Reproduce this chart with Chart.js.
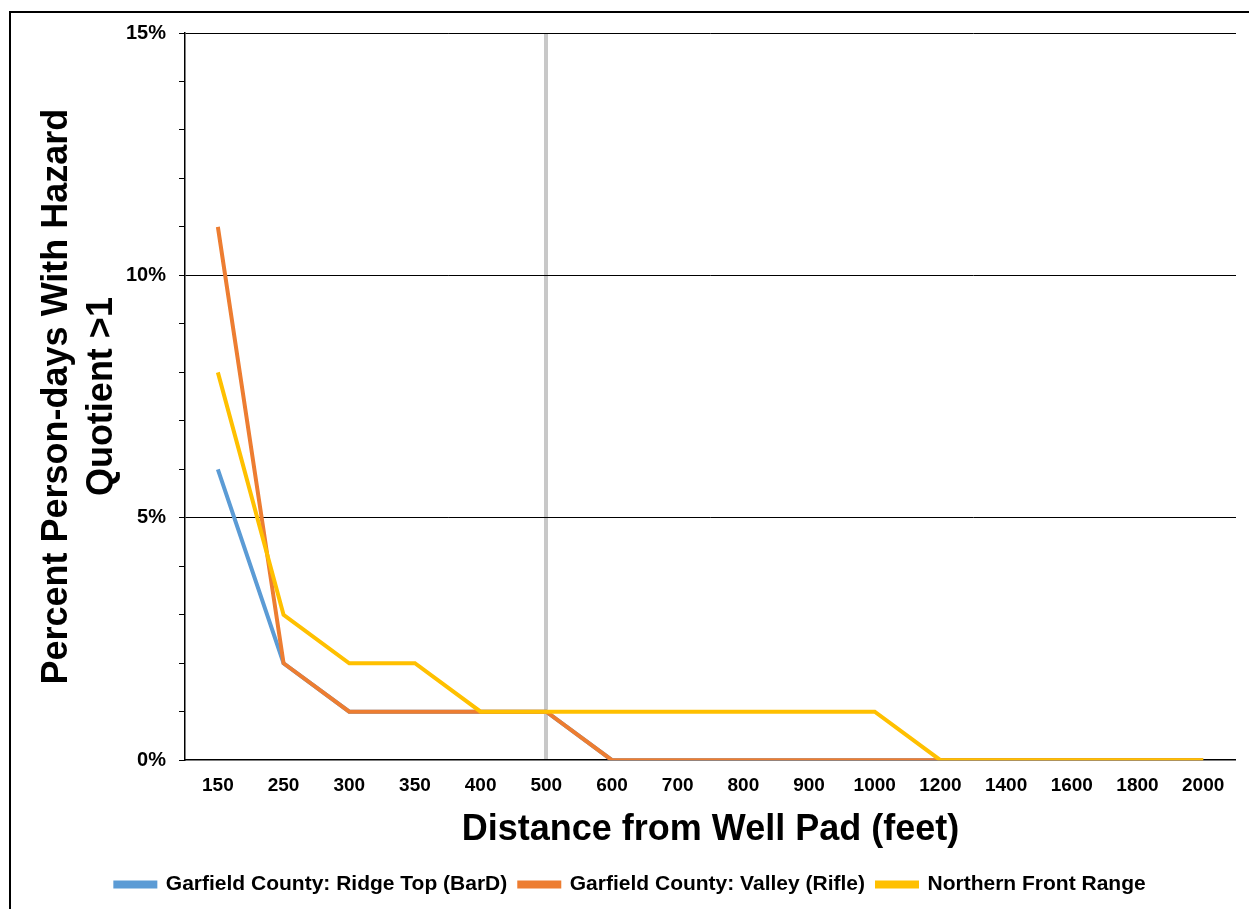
<!DOCTYPE html>
<html lang="en">

<head>
    <meta charset="UTF-8">
    <title>Percent Person-days With Hazard Quotient >1</title>
    <script src="https://cdn.jsdelivr.net/npm/chart.js"></script>
    <style>
        html,
        body {
            margin: 0;
            padding: 0;
            background: #fff;
            overflow: hidden;
        }
        
        #wrap {
            position: absolute;
            left: 0;
            top: 0;
            width: 1249px;
            height: 909px;
        }
        
        #frame {
            position: absolute;
            left: 9px;
            top: 11px;
            width: 1300px;
            height: 1000px;
            border: 2px solid #000;
            pointer-events: none;
        }
    </style>
</head>

<body>
    <div id="wrap"><canvas id="grafik"></canvas></div>
    <div id="frame"></div>

    <script>
        const masofalar = ['150', '250', '300', '350', '400', '500', '600', '700', '800', '900', '1000', '1200', '1400', '1600', '1800', '2000'];
        const ridgeTop = [6, 2, 1, 1, 1, 1, 0, 0, 0, 0, 0, 0, 0, 0, 0, 0];
        const valley = [11, 2, 1, 1, 1, 1, 0, 0, 0, 0, 0, 0, 0, 0, 0, 0];
        const frontRange = [8, 3, 2, 2, 1, 1, 1, 1, 1, 1, 1, 0, 0, 0, 0, 0];
        const chegara = '500';

        const shrift = 'Liberation Sans, Arial, sans-serif';

        function chiziq(nomi, qiymatlar, rang, tartib) {
            return {
                label: nomi,
                data: qiymatlar,
                borderColor: rang,
                backgroundColor: rang,
                borderWidth: 4,
                pointRadius: 0,
                tension: 0,
                order: tartib
            };
        }

        new Chart(document.getElementById('grafik'), {
            type: 'line',
            data: {
                labels: masofalar,
                datasets: [
                    chiziq('Garfield County: Ridge Top (BarD)', ridgeTop, '#5B9BD5', 3),
                    chiziq('Garfield County: Valley (Rifle)', valley, '#ED7D31', 2),
                    chiziq('Northern Front Range', frontRange, '#FFC000', 1)
                ]
            },
            options: {
                responsive: true,
                maintainAspectRatio: false,
                animation: false,
                layout: {
                    padding: {
                        left: 25,
                        right: 13,
                        top: 33,
                        bottom: 4
                    }
                },
                plugins: {
                    legend: {
                        position: 'bottom',
                        labels: {
                            color: '#000',
                            boxWidth: 40,
                            boxHeight: 4,
                            padding: 12,
                            sort: (a, b) => a.datasetIndex - b.datasetIndex,
                            font: {
                                family: shrift,
                                size: 21,
                                weight: 'bold'
                            }
                        }
                    },
                    tooltip: {
                        enabled: false
                    }
                },
                scales: {
                    x: {
                        offset: true,
                        border: {
                            color: '#000',
                            width: 1.5
                        },
                        grid: {
                            offset: false,
                            drawTicks: false,
                            color: ctx => masofalar[ctx.index] === chegara ? '#C8C8C8' : 'transparent',
                            lineWidth: ctx => masofalar[ctx.index] === chegara ? 4 : 0
                        },
                        ticks: {
                            color: '#000',
                            padding: 14,
                            maxRotation: 0,
                            autoSkip: false,
                            font: {
                                family: shrift,
                                size: 19,
                                weight: 'bold'
                            }
                        },
                        title: {
                            display: true,
                            text: 'Distance from Well Pad (feet)',
                            color: '#000',
                            padding: {
                                top: 1,
                                bottom: 14
                            },
                            font: {
                                family: shrift,
                                size: 36,
                                weight: 'bold',
                                lineHeight: 1
                            }
                        }
                    },
                    y: {
                        min: 0,
                        max: 15,
                        border: {
                            color: '#000',
                            width: 1.5
                        },
                        grid: {
                            color: ctx => ctx.tick.value % 5 === 0 && ctx.tick.value > 0 ? '#000' : 'transparent',
                            lineWidth: 1,
                            tickColor: '#000',
                            tickLength: 6
                        },
                        ticks: {
                            stepSize: 1,
                            color: '#000',
                            padding: 13,
                            autoSkip: false,
                            callback: v => v % 5 === 0 ? v + '%' : '',
                            font: {
                                family: shrift,
                                size: 20,
                                weight: 'bold'
                            }
                        },
                        title: {
                            display: true,
                            text: ['Percent Person-days With Hazard', 'Quotient >1'],
                            color: '#000',
                            padding: {
                                top: 10,
                                bottom: -12
                            },
                            font: {
                                family: shrift,
                                size: 36,
                                weight: 'bold',
                                lineHeight: 1.25
                            }
                        }
                    }
                }
            }
        });
    </script>

</body>

</html>
